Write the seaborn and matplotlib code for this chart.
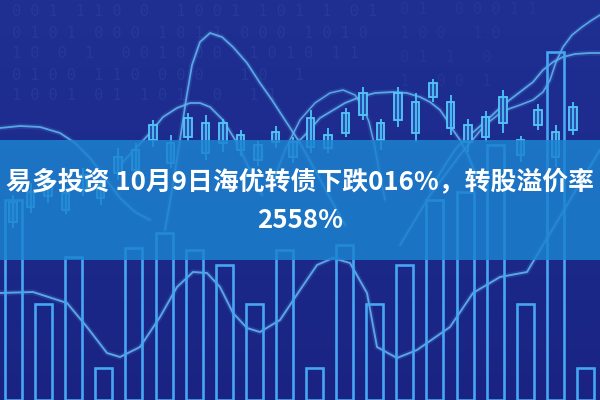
import numpy as np
import pandas as pd
import matplotlib
matplotlib.use("Agg")
import matplotlib.pyplot as plt
import seaborn as sns
from matplotlib.colors import LinearSegmentedColormap

sns.set_theme(style="white")
plt.rcParams['font.family'] = ['Noto Sans CJK SC', 'DejaVu Sans']

# ---------------- text ----------------
title_line1 = "易多投资 10月9日海优转债下跌016%，转股溢价率"
title_line2 = "2558%"
digit_rows_left = [
    "0 0 1  1 1 0  0   1 0 0 1  1 0 1  1  0 1",
    "0 1 0 1  0 0 0  1 0 1 1  0 0 0  1 0 1 0",
    "1 0  0  1   0 0 1 0 0 0   1 0 1 0  1 1",
    "0 1 0 0  1 1 0  0 0 0    1 0   1",
    "1 0 0 1  0 1  1 0 1   0   1 1",
]
digit_rows_right = [
    "0 1   0 0 0 1 1",
    "1 0 0   1 0",
    "0 1  1   0",
    "1   0 0  1",
]

# ---------------- bars (outlined columns) ----------------
bar_slots = list(range(20))
bar_values = [200, 96, 143, 32, 152, 167, 150, 135, 96, 150,
              32, 155, 96, 135, 200, 208, 255, 96, 348, 32]

# ---------------- candlesticks ----------------
candle_slots = list(range(33))
candle_body_hi = [198, 208, 220, 207, 225, 215, 243, 250, 275, 257, 282, 277, 277, 265, 255, 268, 258,
                  282, 265, 287, 307, 277, 307, 298, 317, 298, 275, 283, 303, 260, 290, 268, 293]
candle_body_lo = [178, 193, 204, 190, 210, 202, 227, 230, 260, 237, 263, 247, 257, 250, 240, 258, 243,
                  253, 252, 267, 285, 260, 280, 267, 303, 272, 258, 263, 277, 245, 275, 243, 270]
candle_high = [205, 217, 228, 212, 232, 222, 252, 257, 280, 265, 287, 285, 281, 270, 259, 274, 263,
               290, 272, 292, 313, 281, 313, 307, 321, 305, 281, 289, 310, 264, 296, 275, 298]
candle_low = [172, 187, 197, 186, 204, 195, 220, 223, 253, 232, 259, 240, 248, 244, 234, 252, 237,
              247, 247, 263, 280, 250, 273, 258, 298, 265, 248, 258, 267, 238, 270, 233, 265]

# ---------------- curves (x, value) ----------------
curve_left_x = [0, 20, 40, 60, 75, 90, 105, 120, 135, 150]
curve_left_y = [272, 274, 273, 267, 257, 242, 222, 202, 188, 180]

curve_arc_x = [120, 137, 150, 163, 177, 190, 200, 210, 223, 237, 250, 262]
curve_arc_y = [235, 253, 267, 283, 292, 297, 297, 293, 280, 257, 230, 205]

curve_big_x = [165, 172, 180, 186, 192, 200, 210, 222, 233, 247, 260, 272, 283, 300, 315, 330, 345]
curve_big_y = [170, 210, 260, 300, 335, 358, 367, 363, 353, 337, 317, 300, 283, 257, 230, 202, 175]

curve_arc2_x = [270, 285, 300, 315, 330, 343, 355, 363, 369, 374, 379, 385]
curve_arc2_y = [210, 250, 280, 297, 307, 310, 305, 293, 278, 257, 230, 200]

curve_wide_x = [290, 305, 320, 345, 360, 375, 393, 407, 420, 430, 440, 447, 453, 460, 468, 476]
curve_wide_y = [250, 265, 282, 297, 303, 307, 308, 307, 303, 298, 290, 280, 270, 260, 245, 225]

curve_s_x = [430, 445, 457, 470, 487, 503, 520, 533, 543, 553, 563, 575, 590, 600]
curve_s_y = [210, 235, 253, 265, 280, 295, 308, 318, 330, 338, 343, 346, 347, 347]

curve_steep_x = [400, 430, 460, 485, 503, 520, 533, 543, 550, 556, 563, 572, 582, 592, 600]
curve_steep_y = [155, 205, 245, 275, 289, 295, 300, 308, 320, 338, 353, 365, 373, 380, 385]

curve_low_x = [0, 33, 67, 87, 107, 120, 140, 160, 177, 193, 207, 220, 233, 247, 260, 280, 300,
               317, 333, 350, 367, 377, 397, 417, 450, 473, 500, 527, 540, 555, 570, 585, 600]
curve_low_y = [107, 108, 97, 73, 47, 43, 53, 83, 113, 128, 127, 113, 87, 72, 68, 80, 110,
               135, 142, 137, 107, 53, 42, 50, 73, 107, 123, 128, 150, 175, 200, 225, 250]

# ---------------- figure ----------------
fig = plt.figure(figsize=(6, 4), dpi=100)
fig.patch.set_facecolor("#1c2a8e")

# background gradient axis
ax_bg = fig.add_axes([0, 0, 1, 1])
grad = np.linspace(0, 1, 256).reshape(-1, 1)
cmap = LinearSegmentedColormap.from_list("bg", ["#1f2f92", "#1c2b8c", "#1a2382"])
ax_bg.imshow(grad, aspect="auto", cmap=cmap, extent=[0, 600, 0, 400], origin="upper")

# faint binary digits
for i, row in enumerate(digit_rows_left):
    ax_bg.text(12, 388 - i * 21, row, fontsize=11, family="DejaVu Sans Mono",
               color="#8fb0ff", alpha=0.08, va="center", ha="left")
for i, row in enumerate(digit_rows_right):
    ax_bg.text(400, 390 - i * 24, row, fontsize=11, family="DejaVu Sans Mono",
               color="#8fb0ff", alpha=0.06, va="center", ha="left")

# curves
line_col = "#5fb2ef"
curves = [
    (curve_left_x, curve_left_y, 1.3),
    (curve_arc_x, curve_arc_y, 1.3),
    (curve_big_x, curve_big_y, 1.3),
    (curve_arc2_x, curve_arc2_y, 1.1),
    (curve_wide_x, curve_wide_y, 1.3),
    (curve_s_x, curve_s_y, 1.3),
    (curve_steep_x, curve_steep_y, 1.2),
    (curve_low_x, curve_low_y, 1.4),
]
for cx, cy, lw in curves:
    df = pd.DataFrame({"x": cx, "y": cy})
    sns.lineplot(data=df, x="x", y="y", sort=False, estimator=None, ax=ax_bg,
                 color=line_col, linewidth=lw + 2.5, alpha=0.15)
    sns.lineplot(data=df, x="x", y="y", sort=False, estimator=None, ax=ax_bg,
                 color=line_col, linewidth=lw, alpha=0.9)
ax_bg.set_xlim(0, 600)
ax_bg.set_ylim(0, 400)
ax_bg.axis("off")

# candlesticks
ax_c = fig.add_axes([0, 0, 1, 1])
ax_c.patch.set_alpha(0)
cdf = pd.DataFrame({"slot": candle_slots, "hi": candle_body_hi, "lo": candle_body_lo,
                    "high": candle_high, "low": candle_low})
ax_c.vlines(cdf["slot"], cdf["low"], cdf["high"], color="#4cc3f8", linewidth=1.3)
ax_c.bar(cdf["slot"], cdf["hi"] - cdf["lo"], bottom=cdf["lo"], width=0.42,
         color="#2a4fae", edgecolor="#55c8fa", linewidth=1.3)
ax_c.set_xlim(-0.743, 33.54)
ax_c.set_ylim(0, 400)
ax_c.axis("off")

# outlined columns
ax_b = fig.add_axes([0, 0, 1, 1])
ax_b.patch.set_alpha(0)
bdf = pd.DataFrame({"slot": bar_slots, "value": bar_values})
sns.barplot(data=bdf, x="slot", y="value", ax=ax_b, fill=False, color="#3f9cf0",
            width=0.565, linewidth=1.9, errorbar=None)
for p in ax_b.patches:
    p.set_edgecolor("#46a6f3")
ax_b.set_xlim(-0.449, 19.485)
ax_b.set_ylim(0, 400)
ax_b.axis("off")

# banner + title
ax_t = fig.add_axes([0, 0, 1, 1])
ax_t.patch.set_alpha(0)
ax_t.set_xlim(0, 600)
ax_t.set_ylim(400, 0)
ax_t.axhspan(140, 260, color="#1c83d0", alpha=0.83, linewidth=0)
ax_t.text(300, 183, title_line1, ha="center", va="center", color="white",
          fontsize=18.6, fontweight="bold")
ax_t.text(300, 221, title_line2, ha="center", va="center", color="white",
          fontsize=18.6, fontweight="bold")
ax_t.axis("off")

fig.savefig("out.png", dpi=100)
